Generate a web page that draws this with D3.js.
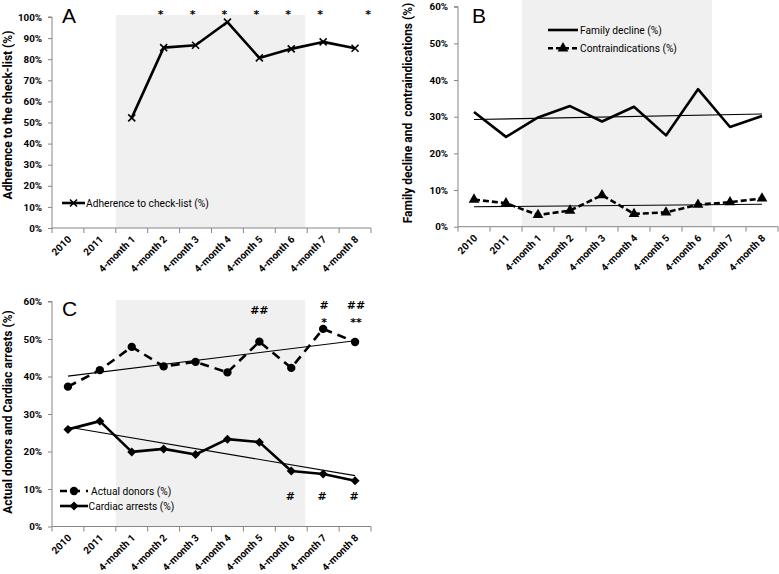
<!DOCTYPE html>
<html>
<head>
<meta charset="utf-8">
<script src="https://cdn.jsdelivr.net/npm/d3@7"></script>
<style>
  html, body { margin: 0; padding: 0; background: #fff; }
  svg { display: block; }
</style>
</head>
<body>
<svg id="chart" width="779" height="574"></svg>
<script>
// ---------------- DATA ----------------
const categories = ["2010", "2011", "4-month 1", "4-month 2", "4-month 3", "4-month 4",
                    "4-month 5", "4-month 6", "4-month 7", "4-month 8"];
const shadedCategories = ["4-month 1", "4-month 6"];

const adherence = [null, null, 52.2, 85.5, 86.6, 97.6, 80.6, 84.9, 88.2, 85.2];
const familyDecline = [31.3, 24.5, 29.8, 32.9, 28.7, 32.7, 24.9, 37.5, 27.2, 30.2];
const contraindications = [7.4, 6.4, 3.2, 4.4, 8.6, 3.5, 3.9, 6.0, 6.7, 7.7];
const actualDonors = [37.3, 41.7, 47.9, 42.7, 43.9, 41.1, 49.3, 42.3, 52.7, 49.2];
const cardiacArrests = [25.9, 28.1, 19.9, 20.7, 19.2, 23.3, 22.5, 14.8, 14.0, 12.2];

const yTicksA = [0, 10, 20, 30, 40, 50, 60, 70, 80, 90, 100];
const yTicksBC = [0, 10, 20, 30, 40, 50, 60];

const starsA = ["4-month 2", "4-month 3", "4-month 4", "4-month 5", "4-month 6", "4-month 7", "4-month 8"];
const topMarksC = [
  { cat: "4-month 5", lines: ["##"] },
  { cat: "4-month 7", lines: ["#", "*"] },
  { cat: "4-month 8", lines: ["##", "**"] }
];
const bottomMarksC = ["4-month 6", "4-month 7", "4-month 8"];

// ---------------- HELPERS ----------------
const svg = d3.select("#chart");
const FONT = "Roboto, 'Noto Sans', sans-serif";
const MARK_FONT = "'DejaVu Sans', sans-serif";
const AXIS_COLOR = "#868686";
const SHADE = "#f0f0f0";

function regression(vals) {
  const pts = vals.map((v, i) => [i, v]).filter(d => d[1] != null);
  const mx = d3.mean(pts, d => d[0]), my = d3.mean(pts, d => d[1]);
  const sxy = d3.sum(pts, d => (d[0] - mx) * (d[1] - my));
  const sxx = d3.sum(pts, d => (d[0] - mx) ** 2);
  const b = sxy / sxx, a = my - b * mx;
  return [[pts[0][0], a + b * pts[0][0]], [pts[pts.length - 1][0], a + b * pts[pts.length - 1][0]]];
}

function panel(cfg) {
  const g = svg.append("g");
  const x = d3.scaleBand().domain(categories).range([cfg.x0, cfg.x1]).padding(0);
  const y = d3.scaleLinear().domain([0, cfg.ymax]).range([cfg.y0, cfg.y1]);
  const cx = c => x(c) + x.bandwidth() / 2;

  // shading
  g.append("rect")
    .attr("x", x(shadedCategories[0]))
    .attr("y", cfg.shadeTop)
    .attr("width", x(shadedCategories[1]) + x.bandwidth() - 2 - x(shadedCategories[0]))
    .attr("height", cfg.y0 - cfg.shadeTop)
    .attr("fill", SHADE);

  // y axis
  const ya = g.append("g").attr("transform", `translate(${cfg.x0},0)`)
    .call(d3.axisLeft(y).tickValues(cfg.yTicks).tickFormat(d => d + "%").tickSize(4).tickPadding(6));
  ya.select(".domain").attr("stroke", AXIS_COLOR).attr("d", `M-4,${y(cfg.ymax)}H0V${cfg.y0}`);
  ya.selectAll(".tick line").attr("stroke", AXIS_COLOR);
  ya.selectAll(".tick text").attr("font-family", FONT).attr("font-weight", "bold")
    .attr("font-size", "9.8px").attr("fill", "#000");

  // x axis
  const xa = g.append("g").attr("transform", `translate(0,${cfg.y0})`);
  xa.append("line").attr("x1", cfg.x0).attr("x2", cfg.x1).attr("stroke", AXIS_COLOR);
  const edges = categories.map(c => x(c)).concat([cfg.x1]);
  xa.selectAll("line.tk").data(edges).join("line").attr("class", "tk")
    .attr("x1", d => d).attr("x2", d => d).attr("y1", 0).attr("y2", 5).attr("stroke", AXIS_COLOR);
  xa.selectAll("text").data(categories).join("text")
    .attr("transform", d => `translate(${cx(d) + 4},${12}) rotate(-45)`)
    .attr("text-anchor", "end")
    .attr("font-family", FONT).attr("font-weight", "bold").attr("font-size", "10px")
    .text(d => d);

  // y title
  g.append("text")
    .attr("transform", `translate(${cfg.titleX},${cfg.titleY}) rotate(-90)`)
    .attr("text-anchor", "middle")
    .attr("font-family", FONT).attr("font-weight", "bold").attr("font-size", "12px")
    .attr("xml:space", "preserve")
    .text(cfg.title);

  // panel letter
  g.append("text").attr("x", cfg.letterX).attr("y", cfg.letterY)
    .attr("font-family", "'Liberation Sans', Arial, sans-serif").attr("font-size", "21px")
    .text(cfg.letter);

  return { g, x, y, cx };
}

function drawSeries(p, vals, opts) {
  const pts = vals.map((v, i) => ({ c: categories[i], v })).filter(d => d.v != null);
  const line = d3.line().x(d => p.cx(d.c)).y(d => p.y(d.v));
  p.g.append("path").datum(pts).attr("d", line).attr("fill", "none")
    .attr("stroke", "#000").attr("stroke-width", 2.6)
    .attr("stroke-linejoin", "round")
    .attr("stroke-dasharray", opts.dash || null);
  pts.forEach(d => drawMarker(p.g, p.cx(d.c), p.y(d.v), opts.marker));
}

function drawMarker(g, px, py, type) {
  if (type === "x") {
    g.append("path").attr("d", `M${px - 3.5},${py - 3.5}L${px + 3.5},${py + 3.5}M${px - 3.5},${py + 3.5}L${px + 3.5},${py - 3.5}`)
      .attr("stroke", "#000").attr("stroke-width", 1.6).attr("fill", "none");
  } else if (type === "triangle") {
    g.append("path").attr("d", d3.symbol(d3.symbolTriangle, 50)()).attr("transform", `translate(${px},${py})`).attr("fill", "#000");
  } else if (type === "circle") {
    g.append("circle").attr("cx", px).attr("cy", py).attr("r", 4.2).attr("fill", "#000");
  } else if (type === "diamond") {
    g.append("path").attr("d", `M${px},${py - 4.5}L${px + 4.5},${py}L${px},${py + 4.5}L${px - 4.5},${py}Z`).attr("fill", "#000");
  }
}

function drawTrend(p, vals) {
  const [a, b] = regression(vals);
  p.g.append("line")
    .attr("x1", p.cx(categories[a[0]])).attr("y1", p.y(a[1]))
    .attr("x2", p.cx(categories[b[0]])).attr("y2", p.y(b[1]))
    .attr("stroke", "#000").attr("stroke-width", 1.1);
}

function legendItem(g, lx0, lx1, ly, text, textX, marker, dash) {
  g.append("line").attr("x1", lx0).attr("x2", lx1).attr("y1", ly).attr("y2", ly)
    .attr("stroke", "#000").attr("stroke-width", 2.6).attr("stroke-dasharray", dash || null);
  if (marker) drawMarker(g, (lx0 + lx1) / 2, ly, marker);
  g.append("text").attr("x", textX).attr("y", ly + 3.8)
    .attr("font-family", FONT).attr("font-size", "10.2px").text(text);
}

function mark(g, px, py, t) {
  g.append("text").attr("x", px).attr("y", py)
    .attr("text-anchor", "middle").attr("font-family", MARK_FONT).attr("font-weight", "bold")
    .attr("font-size", "11px").text(t);
}

// ---------------- PANEL A ----------------
const A = panel({ x0: 52, x1: 371, y0: 228, y1: 17, ymax: 100, yTicks: yTicksA, shadeTop: 15,
  title: "Adherence to the check-list (%)", titleX: 12, titleY: 115, letter: "A", letterX: 62, letterY: 23 });
drawSeries(A, adherence, { marker: "x" });
starsA.forEach((d, i) => mark(A.g, A.cx(d) + (i === starsA.length - 1 ? 13 : -3), 18, "*"));
legendItem(A.g, 62, 85, 203, "Adherence to check-list (%)", 86, "x");

// ---------------- PANEL B ----------------
const B = panel({ x0: 458, x1: 778, y0: 226.7, y1: 6.7, ymax: 60, yTicks: yTicksBC, shadeTop: 0,
  title: "Family decline and  contraindications (%)", titleX: 412, titleY: 113, letter: "B", letterX: 472, letterY: 23 });
drawTrend(B, familyDecline);
drawTrend(B, contraindications);
drawSeries(B, familyDecline, {});
drawSeries(B, contraindications, { marker: "triangle", dash: "6,3" });
legendItem(B.g, 548, 578, 30, "Family decline (%)", 580, null);
legendItem(B.g, 548, 578, 48.3, "Contraindications (%)", 580, "triangle", "5,3");

// ---------------- PANEL C ----------------
const C = panel({ x0: 52, x1: 371, y0: 526.5, y1: 301.5, ymax: 60, yTicks: yTicksBC, shadeTop: 300,
  title: "Actual donors and Cardiac arrests (%)", titleX: 12, titleY: 412, letter: "C", letterX: 62, letterY: 316 });
drawTrend(C, actualDonors);
drawTrend(C, cardiacArrests);
drawSeries(C, actualDonors, { marker: "circle", dash: "9,6" });
drawSeries(C, cardiacArrests, { marker: "diamond" });
topMarksC.forEach(m => {
  m.lines.forEach((t, i) => {
    const yy = (m.lines.length === 1 ? 314 : 309) + i * 15 + (t.startsWith("*") ? 2 : 0);
    mark(C.g, C.cx(m.cat) + (m.cat === "4-month 5" ? 0 : 1), yy, t);
  });
});
bottomMarksC.forEach(d => mark(C.g, C.cx(d) - 1, 500, "#"));
legendItem(C.g, 60, 88, 491, "Actual donors (%)", 91, "circle", "7,6");
legendItem(C.g, 60, 88, 506, "Cardiac arrests (%)", 88.5, "diamond");
</script>
</body>
</html>
